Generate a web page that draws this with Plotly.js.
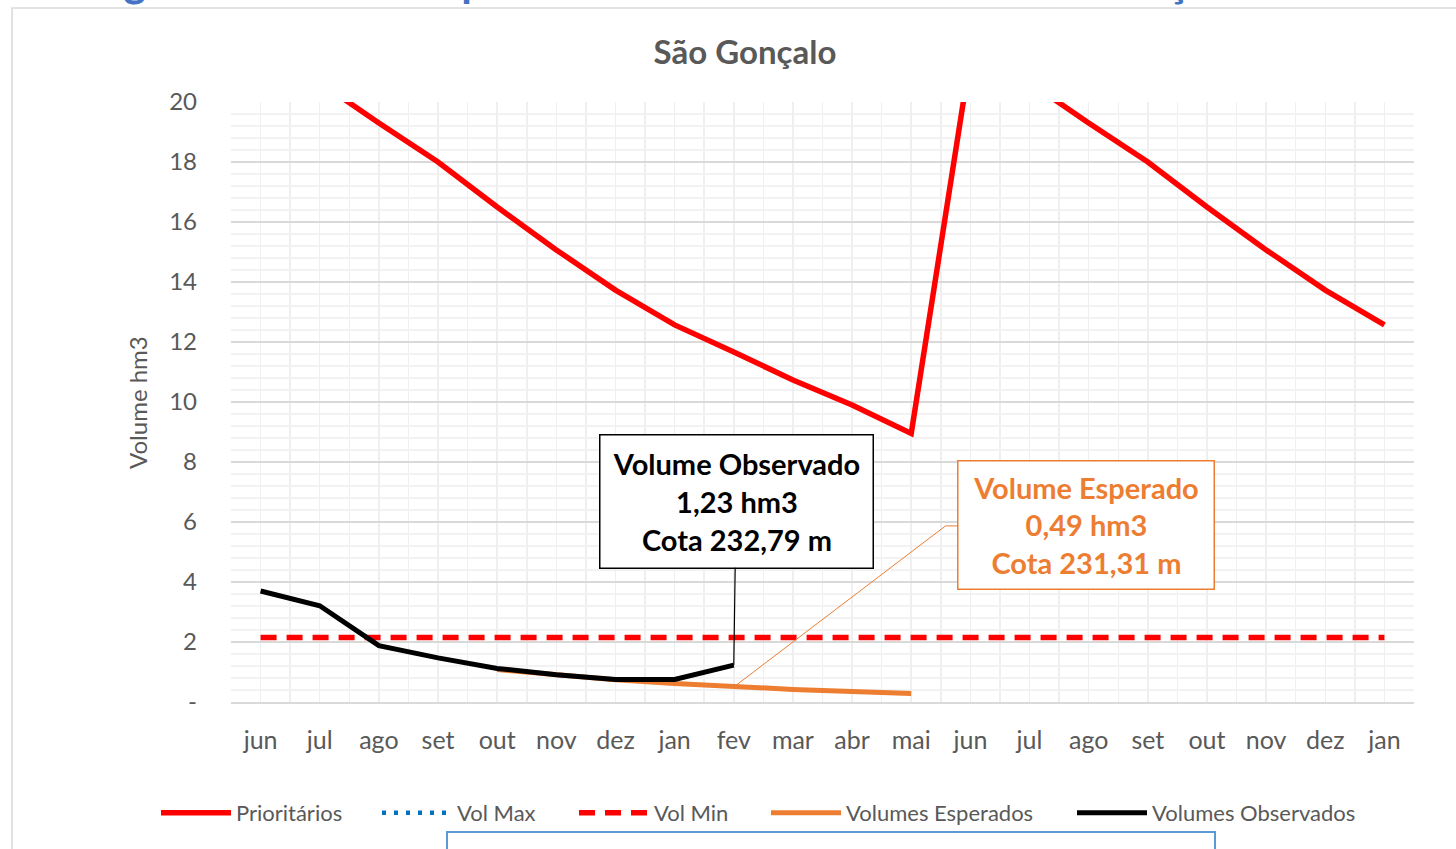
<!DOCTYPE html>
<html>
<head>
<meta charset="utf-8">
<script src="https://cdn.plot.ly/plotly-3.0.1.min.js"></script>
<style>html,body{margin:0;padding:0;background:#fff;}#chart{width:1456px;height:849px;}</style>
</head>
<body>
<div id="chart"></div>
<script>
const months = ['jun','jul','ago','set','out','nov','dez','jan','fev','mar','abr','mai','jun','jul','ago','set','out','nov','dez','jan'];
const prioritarios = [21.5, 20.65, 19.3, 18.0, 16.5, 15.07, 13.73, 12.57, 11.67, 10.73, 9.9, 8.95, 21.5, 20.65, 19.3, 18.0, 16.5, 15.07, 13.73, 12.57];
const volMax = [23, 23, 23, 23, 23, 23, 23, 23, 23, 23, 23, 23, 23, 23, 23, 23, 23, 23, 23, 23];
const volMin = [2.15, 2.15, 2.15, 2.15, 2.15, 2.15, 2.15, 2.15, 2.15, 2.15, 2.15, 2.15, 2.15, 2.15, 2.15, 2.15, 2.15, 2.15, 2.15, 2.15];
const esperados = [null, null, null, null, 1.08, 0.9, 0.74, 0.62, 0.5, 0.42, 0.35, 0.28, null, null, null, null, null, null, null, null];
const observados = [3.7, 3.21, 1.88, 1.47, 1.12, 0.91, 0.75, 0.75, 1.23, null, null, null, null, null, null, null, null, null, null, null];
const yTickVals = [0, 2, 4, 6, 8, 10, 12, 14, 16, 18, 20];
const yTickText = ['-', '2', '4', '6', '8', '10', '12', '14', '16', '18', '20'];
const obsLabel = '<b>Volume Observado<br>1,23 hm3<br>Cota 232,79 m</b>';
const espLabel = '<b>Volume Esperado<br>0,49 hm3<br>Cota 231,31 m</b>';
const chartTitle = 'São Gonçalo';
const pageTitle = 'Curvas de gatilho Volume esperado Volume Observado - São Gonçalo';

const idx = months.map((m, i) => i);
const FONT = 'Lato, "Open Sans", sans-serif';
const GRAY = '#595959';
const ORANGE = '#ED7D31';

const traces = [
  {x: idx, y: prioritarios, name: 'Prioritários', mode: 'lines', line: {color: '#FF0000', width: 5.5}, legend: 'legend'},
  {x: idx, y: volMax, name: 'Vol Max', mode: 'lines', line: {color: '#0070C0', width: 4.5, dash: '4px,8px'}, legend: 'legend2'},
  {x: idx, y: volMin, name: 'Vol Min', mode: 'lines', line: {color: '#FF0000', width: 5.5, dash: '16px,10px'}, legend: 'legend3'},
  {x: idx, y: esperados, name: 'Volumes Esperados', mode: 'lines', line: {color: ORANGE, width: 5}, legend: 'legend4'},
  {x: idx, y: observados, name: 'Volumes Observados', mode: 'lines', line: {color: '#000000', width: 5}, legend: 'legend5'}
];

function leg(px) {
  return {orientation: 'h', x: (px - 231) / 1183, xanchor: 'left', y: -0.185, yanchor: 'middle',
          font: {family: FONT, size: 22, color: GRAY}, itemwidth: 70, bgcolor: 'rgba(0,0,0,0)'};
}

const fevIdx = 8;
const layout = {
  width: 1456, height: 849,
  margin: {l: 231, r: 42, t: 102, b: 147},
  paper_bgcolor: '#fff', plot_bgcolor: '#fff',
  font: {family: FONT, color: GRAY},
  title: {text: '<b>' + chartTitle + '</b>', font: {family: FONT, size: 33, color: GRAY}, x: 0.4345, xref: 'paper', xanchor: 'center', y: 1 - 52/849, yref: 'container', yanchor: 'middle'},
  showlegend: true,
  legend: leg(156), legend2: leg(377), legend3: leg(574), legend4: leg(766), legend5: leg(1072),
  xaxis: {
    range: [-0.5, 19.5], tickmode: 'array', tickvals: idx, ticktext: months,
    showgrid: true, gridcolor: '#efefef', gridwidth: 1.5,
    minor: {tickmode: 'linear', tick0: 0.5, dtick: 1, showgrid: true, gridcolor: '#efefef', gridwidth: 1.5, ticks: ''},
    showline: true, linecolor: '#d9d9d9', linewidth: 1.5, zeroline: false, ticks: '',
    tickfont: {family: FONT, size: 25, color: GRAY}, ticklabelstandoff: 15, fixedrange: true
  },
  yaxis: {
    range: [0, 20], tickmode: 'array', tickvals: yTickVals, ticktext: yTickText,
    showgrid: true, gridcolor: '#d9d9d9', gridwidth: 1.5,
    minor: {tickmode: 'linear', tick0: 0, dtick: 0.4, showgrid: true, gridcolor: '#f2f2f2', gridwidth: 1.5, ticks: ''},
    zeroline: false, showline: false, ticks: '',
    tickfont: {family: FONT, size: 24, color: GRAY}, ticklabelstandoff: 33, fixedrange: true
  },
  annotations: [
    {text: 'Volume hm3', xref: 'paper', yref: 'paper', x: -0.0795, y: 0.5, textangle: -90, showarrow: false, font: {family: FONT, size: 24, color: GRAY}, xanchor: 'center', yanchor: 'middle'},
    {text: obsLabel, xref: 'x', yref: 'y', x: fevIdx, y: observados[fevIdx], axref: 'x', ayref: 'y', ax: 8.04, ay: 6.7,
     showarrow: true, arrowhead: 0, arrowwidth: 1.2, arrowcolor: '#000', bordercolor: '#000', borderwidth: 1.5, bgcolor: '#fff',
     width: 270, height: 130, align: 'center', font: {family: FONT, size: 29, color: '#000'}},
    {text: espLabel, xref: 'x', yref: 'y', x: 13.96, y: 5.9, showarrow: false, bordercolor: ORANGE, borderwidth: 1.5, bgcolor: '#fff',
     width: 253, height: 125, align: 'center', font: {family: FONT, size: 29, color: ORANGE}},
    {text: '<b>' + pageTitle + '</b>', xref: 'paper', yref: 'paper', x: 0.299, y: 1.157, xanchor: 'center', yanchor: 'bottom', showarrow: false,
     font: {family: FONT, size: 43, color: '#4472C4'}}
  ],
  shapes: [
    {type: 'path', xref: 'x', yref: 'y', path: 'M ' + fevIdx + ',' + esperados[fevIdx] + ' L 11.58,5.87 L 11.78,5.87', line: {color: ORANGE, width: 1}},
    {type: 'path', xref: 'paper', yref: 'paper', path: 'M -0.1851,-0.3 L -0.1851,1.1567 L 1.1,1.1567', line: {color: '#d9d9d9', width: 1.5}},
    {type: 'path', xref: 'paper', yref: 'paper', path: 'M 0.1826,-0.3 L 0.1826,-0.2167 L 0.8318,-0.2167 L 0.8318,-0.3', line: {color: '#5B9BD5', width: 2}}
  ]
};

Plotly.newPlot('chart', traces, layout, {displayModeBar: false, staticPlot: true});
</script>
</body>
</html>
